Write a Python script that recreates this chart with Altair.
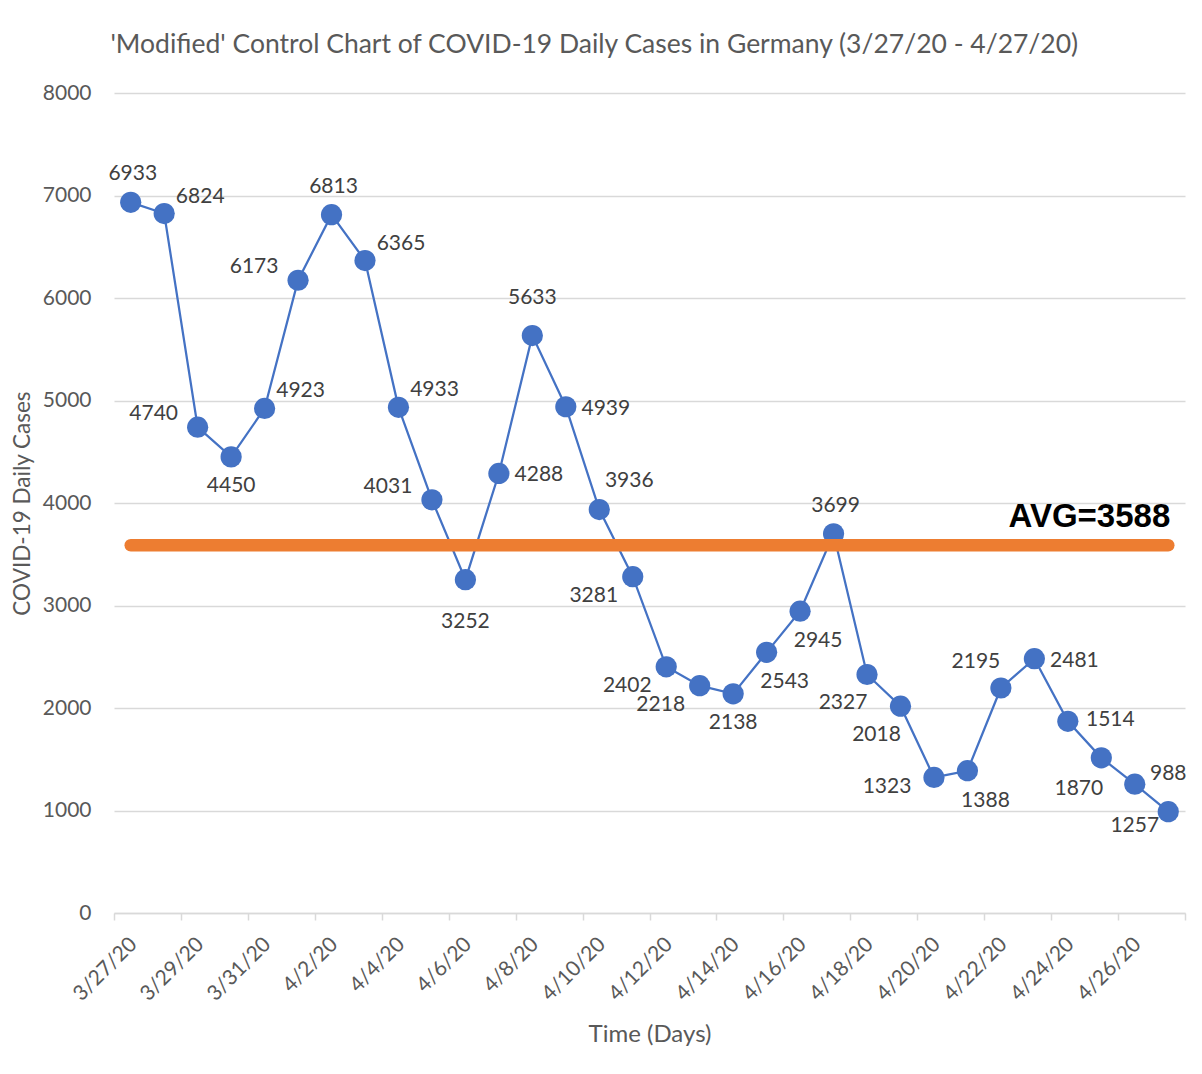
import altair as alt
import pandas as pd

# ---- data ----
dates = ["3/27/20", "3/28/20", "3/29/20", "3/30/20", "3/31/20", "4/1/20", "4/2/20", "4/3/20",
         "4/4/20", "4/5/20", "4/6/20", "4/7/20", "4/8/20", "4/9/20", "4/10/20", "4/11/20",
         "4/12/20", "4/13/20", "4/14/20", "4/15/20", "4/16/20", "4/17/20", "4/18/20", "4/19/20",
         "4/20/20", "4/21/20", "4/22/20", "4/23/20", "4/24/20", "4/25/20", "4/26/20", "4/27/20"]
cases = [6933, 6824, 4740, 4450, 4923, 6173, 6813, 6365, 4933, 4031, 3252, 4288, 5633, 4939,
         3936, 3281, 2402, 2218, 2138, 2543, 2945, 3699, 2327, 2018, 1323, 1388, 2195, 2481,
         1870, 1514, 1257, 988]
y_ticks = [0, 1000, 2000, 3000, 4000, 5000, 6000, 7000, 8000]

# where each data label sits relative to its point (placement code)
label_pos = ["n", "ne", "w", "s", "ne", "w", "n", "ne", "ne", "w", "s2", "e", "n2", "e",
             "ne2", "sw", "sw", "sw", "s", "se", "se", "n", "ssw", "ssw", "wsw", "se", "nw", "e",
             "sfar", "nne", "s2", "n2"]

# placement code -> (dx, dy) in pixels
placements = {
    "n": (2, -28), "n2": (0, -38), "nne": (9, -38), "ne": (36, -17), "ne2": (30, -29),
    "e": (40, 2), "w": (-44, -13), "s": (0, 29), "s2": (0, 42), "se": (18, 30),
    "sw": (-39, 19), "ssw": (-24, 29), "wsw": (-47, 10), "nw": (-25, -26), "sfar": (11, 68),
}

df = pd.DataFrame({"idx": list(range(len(dates))), "date": dates, "cases": cases, "pos": label_pos})

FONT = "Lato"
GREY = "#595959"
BLUE = "#4472C4"
ORANGE = "#ED7D31"

n = len(dates)
x_vals = [i - 0.5 for i in range(0, n + 1, 2)]
label_js = "[" + ",".join("'%s'" % d for d in dates) + "]"
label_expr = "%s[round(datum.value + 0.5)] || ''" % label_js

x_enc = alt.X(
    "idx:Q",
    scale=alt.Scale(domain=[-0.5, n - 0.5], nice=False, zero=False),
    axis=alt.Axis(
        values=x_vals, labelExpr=label_expr, labelAngle=-45, labelAlign="right",
        labelBaseline="top", labelOffset=11.5, labelPadding=13, labelOverlap=False,
        labelFlush=False, labelBound=False, tickSize=7, tickColor="#D9D9D9", tickWidth=1.5,
        domainColor="#D9D9D9", domainWidth=1.5, grid=False, labelFont=FONT, labelFontSize=21,
        labelColor=GREY, title="Time (Days)", titleFont=FONT, titleFontSize=24,
        titleColor=GREY, titleFontWeight="normal", titlePadding=18,
    ),
)
y_enc = alt.Y(
    "cases:Q",
    scale=alt.Scale(domain=[0, 8000], nice=False),
    axis=alt.Axis(
        values=y_ticks, format="d", grid=True, gridColor="#D9D9D9", gridWidth=1.3, domain=False,
        ticks=False, labelPadding=23, labelFont=FONT, labelFontSize=21, labelColor=GREY,
        title="COVID-19 Daily Cases", titleFont=FONT, titleFontSize=22.5, titleColor=GREY,
        titleFontWeight="normal", titlePadding=8,
    ),
)

base = alt.Chart(df)

line = base.mark_line(color=BLUE, strokeWidth=2.25).encode(x=x_enc, y=y_enc)
points = base.mark_circle(size=450, color=BLUE, opacity=1).encode(x=x_enc, y=y_enc)

label_layers = []
for code, (dx, dy) in placements.items():
    label_layers.append(
        base.transform_filter(alt.datum.pos == code)
        .mark_text(dx=dx, dy=dy, font=FONT, fontSize=21, color="#404040", baseline="middle")
        .encode(x=x_enc, y=y_enc, text="cases:Q")
    )

avg_base = base.transform_aggregate(
    cases="mean(cases)", idx="min(idx)", idx_end="max(idx)"
)
avg_rule = avg_base.mark_rule(color=ORANGE, strokeWidth=12.5, strokeCap="round").encode(
    x=x_enc, x2="idx_end:Q", y=y_enc
)
avg_text = (
    avg_base.transform_calculate(lbl="'AVG=' + round(datum.cases)")
    .mark_text(align="right", baseline="alphabetic", dx=2, dy=-18,
               font="Liberation Sans", fontWeight="bold", fontSize=33, color="black")
    .encode(x=alt.X("idx_end:Q"), y=y_enc, text="lbl:N")
)

chart = (
    alt.layer(line, points, *label_layers, avg_rule, avg_text)
    .properties(
        width=1071,
        height=820,
        title=alt.Title(
            "'Modified' Control Chart of COVID-19 Daily Cases in Germany (3/27/20 - 4/27/20)",
            font=FONT, fontSize=26.5, fontWeight="normal", color=GREY,
            anchor="middle", frame="bounds", offset=24, dx=-17,
        ),
        autosize=alt.AutoSizeParams(type="none"),
        padding={"left": 106, "top": 85, "right": 9, "bottom": 153},
        background="white",
    )
    .configure_view(stroke=None)
)

chart.save("out.html", embed_options={"renderer": "svg", "actions": False})
